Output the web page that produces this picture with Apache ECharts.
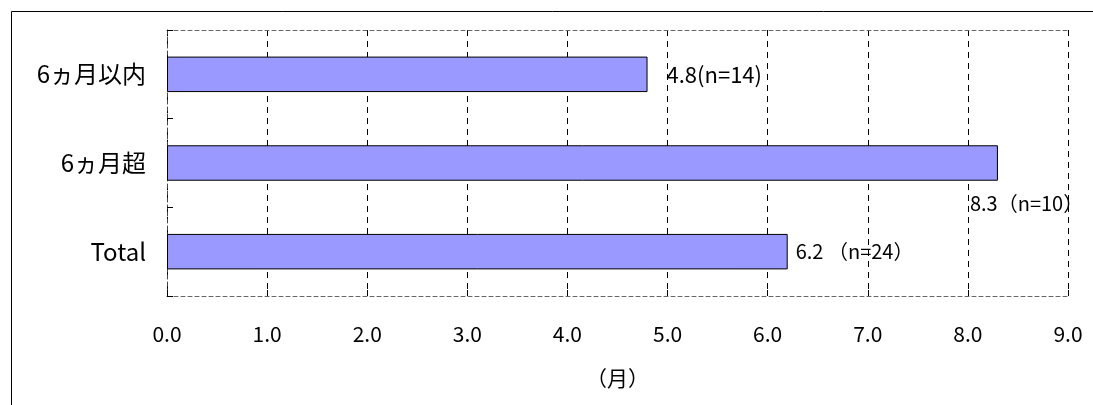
<!DOCTYPE html>
<html>
<head>
<meta charset="utf-8">
<script src="https://cdn.jsdelivr.net/npm/echarts@6/dist/echarts.min.js"></script>
<style>
  html, body { margin: 0; padding: 0; background: #fff; }
  #chart { width: 1093px; height: 405px; }
</style>
</head>
<body>
<div id="chart"></div>
<script>
// Average period (months) by group
const categories = ['6ヵ月以内', '6ヵ月超', 'Total'];
const values = [4.8, 8.3, 6.2];
const counts = [14, 10, 24];
const labelFormats = ['{v}(n={n})', '{v}（n={n}）', '{v} （n={n}）'];
const xTicks = { min: 0, max: 9, interval: 1 };
const axisName = '（月）';

const FONT = '"Noto Sans CJK JP", "Noto Sans", sans-serif';

const labelPlacement = [
  { position: 'right', offset: [11, 0], fontSize: 22 },
  { position: 'right', offset: [-36, 40], fontSize: 20 },
  { position: 'right', offset: [0, 0], fontSize: 20 }
];

const chart = echarts.init(document.getElementById('chart'), null, { renderer: 'canvas' });

chart.setOption({
  backgroundColor: '#fff',
  animation: false,
  graphic: [{
    type: 'rect',
    shape: { x: 11.5, y: 11.5, width: 1100, height: 420 },
    style: { fill: 'none', stroke: '#000', lineWidth: 1 },
    silent: true
  }],
  grid: { left: 167, right: 25, top: 30, bottom: 109, containLabel: false },
  xAxis: [{
    type: 'value',
    min: xTicks.min, max: xTicks.max, interval: xTicks.interval,
    name: axisName,
    nameLocation: 'middle',
    nameGap: 72,
    nameTextStyle: { fontFamily: FONT, fontSize: 21, color: '#000' },
    axisLine: { show: true, lineStyle: { color: '#666', type: [4, 3], width: 1 } },
    axisTick: { show: true, inside: true, length: 6, lineStyle: { color: '#000' } },
    axisLabel: {
      margin: 28, fontFamily: FONT, fontSize: 21, color: '#000',
      formatter: v => v.toFixed(1)
    },
    splitLine: { show: true, lineStyle: { color: '#000', type: [6, 5], width: 1 } }
  }, {
    type: 'value', position: 'top',
    min: xTicks.min, max: xTicks.max, interval: xTicks.interval,
    axisLine: { show: true, lineStyle: { color: '#666', type: [4, 3], width: 1 } },
    axisTick: { show: false }, axisLabel: { show: false }, splitLine: { show: false }
  }],
  yAxis: {
    type: 'category',
    data: categories,
    inverse: true,
    axisLine: { show: true, lineStyle: { color: '#444', type: [4, 3], width: 1 } },
    axisTick: { show: true, inside: true, length: 6, lineStyle: { color: '#000' } },
    axisLabel: { margin: 21, fontFamily: FONT, fontSize: 24, color: '#000' },
    splitLine: { show: false }
  },
  series: [{
    type: 'bar',
    xAxisIndex: 0,
    barWidth: '40%',
    data: values.map((v, i) => ({
      value: v,
      label: {
        show: true,
        position: labelPlacement[i].position,
        offset: labelPlacement[i].offset,
        distance: 8,
        fontFamily: FONT,
        fontSize: labelPlacement[i].fontSize,
        color: '#000',
        formatter: labelFormats[i].replace('{v}', v.toFixed(1)).replace('{n}', counts[i])
      }
    })),
    itemStyle: { color: '#9999FF', borderColor: '#000', borderWidth: 1 }
  }]
});
</script>
</body>
</html>
